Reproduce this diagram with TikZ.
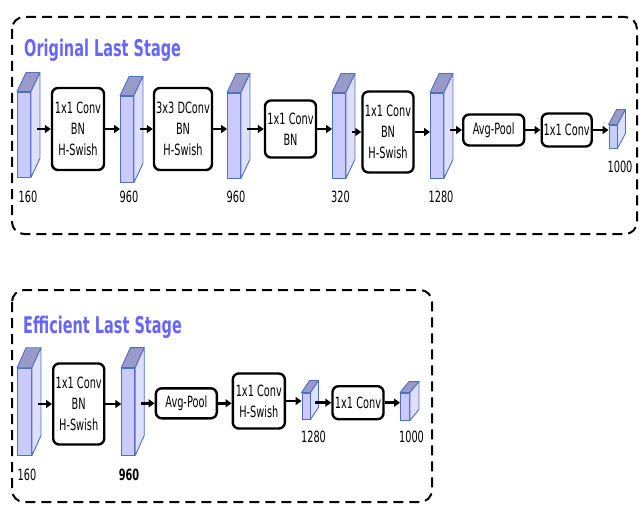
\documentclass[tikz,border=0pt]{standalone}
\usepackage{fontspec}
\setmainfont[FakeStretch=0.63]{DejaVu Sans}
\usetikzlibrary{arrows.meta,calc}
\definecolor{stagetitle}{RGB}{102,102,255}
\definecolor{cubefront}{RGB}{202,202,252}
\definecolor{cubeside}{RGB}{222,222,253}
\definecolor{cubetop}{RGB}{154,154,202}
\definecolor{cubeedge}{RGB}{78,112,192}
\tikzset{
    stage/.style={
        draw,
        line width=2pt,
        dash pattern=on 10pt off 6pt,
        rounded corners=12pt
    },
    stage title/.style={
        anchor=base west,
        inner sep=0pt,
        text=stagetitle,
        font=\fontsize{23}{27}\selectfont\bfseries
    },
    layer/.style={
        draw,
        line width=2.4pt,
        rounded corners=6pt,
        fill=white,
        align=center,
        inner sep=0pt,
        font=\fontsize{15.5}{21}\selectfont
    },
    fmap/.style={draw=cubeedge, fill=cubefront, line width=0.9pt, inner sep=0pt},
    fmap top/.style={draw=cubeedge, fill=cubetop, line width=0.9pt, line join=round},
    fmap side/.style={draw=cubeedge, fill=cubeside, line width=0.9pt, line join=round},
    dim/.style={inner sep=0pt, font=\fontsize{15.5}{18}\selectfont},
    flow/.style={line width=2.5pt, -{Triangle[length=6pt,width=8pt]}}
}

\begin{document}
\begin{tikzpicture}[x=1pt,y=-1pt]
\useasboundingbox (0,0) rectangle (639,505);

% stage frames
\draw[stage] (12,17) rectangle (637,234);
\draw[stage] (12,290) rectangle (432,502);
\node[stage title] (otitle) at (24,57) {Original Last Stage};
\node[stage title] (etitle) at (23,333) {Efficient Last Stage};

% original last stage
\node[fmap, minimum width=13, minimum height=85] (o1) at (24,134.5) {};
\node[fmap, minimum width=13, minimum height=86] (o2) at (127,139) {};
\node[fmap, minimum width=13, minimum height=85] (o3) at (234,135.5) {};
\node[fmap, minimum width=13, minimum height=85] (o4) at (339,135.5) {};
\node[fmap, minimum width=13, minimum height=85] (o5) at (437,135.5) {};
\node[fmap, minimum width=8, minimum height=23] (o6) at (613,136.5) {};

\node[layer, minimum width=52, minimum height=82] (a1) at (78,129) {1x1 Conv\\BN\\H-Swish};
\node[layer, minimum width=58, minimum height=82] (a2) at (183,129) {3x3 DConv\\BN\\H-Swish};
\node[layer, minimum width=51, minimum height=57] (a3) at (290.5,129) {1x1 Conv\\BN};
\node[layer, minimum width=51, minimum height=81] (a4) at (388,132) {1x1 Conv\\BN\\H-Swish};
\node[layer, minimum width=61, minimum height=31] (a5) at (493.7,130) {Avg-Pool};
\node[layer, minimum width=50, minimum height=33] (a6) at (566.7,130) {1x1 Conv};

\node[dim] (o1dim) at (28,197) {160};
\node[dim] (o2dim) at (129,197) {960};
\node[dim] (o3dim) at (236,197) {960};
\node[dim] (o4dim) at (340.5,197) {320};
\node[dim] (o5dim) at (441,197) {1280};
\node[dim] (o6dim) at (620,167) {1000};

% efficient last stage
\node[fmap, minimum width=14, minimum height=87] (e1) at (24.5,411.7) {};
\node[fmap, minimum width=13, minimum height=87] (e2) at (128.3,411.5) {};
\node[fmap, minimum width=8, minimum height=26] (e3) at (306,406) {};
\node[fmap, minimum width=9, minimum height=27] (e4) at (405,406.5) {};

\node[layer, minimum width=51, minimum height=81] (b1) at (78.7,404) {1x1 Conv\\BN\\H-Swish};
\node[layer, minimum width=61, minimum height=30] (b2) at (186.3,403.3) {Avg-Pool};
\node[layer, minimum width=52, minimum height=55] (b3) at (258.8,401) {1x1 Conv\\H-Swish};
\node[layer, minimum width=51, minimum height=33] (b4) at (358,402.7) {1x1 Conv};

\node[dim] (e1dim) at (27,475) {160};
\node[dim, font=\fontsize{15.5}{18}\selectfont\bfseries] (e2dim) at (129,475) {960};
\node[dim] (e3dim) at (313.5,437) {1280};
\node[dim] (e4dim) at (411.5,437) {1000};

% cube faces
\foreach \c/\dx/\dy in {o1/9/19,o2/9/19,o3/9/19,o4/9/19,o5/9/19,o6/8/15,e1/9/20,e2/9/20,e3/8/12,e4/9/11}{
    \draw[fmap top] (\c.north west) -- ++(\dx,-\dy) -- ($(\c.north east)+(\dx,-\dy)$) -- (\c.north east) -- cycle;
    \draw[fmap side] (\c.north east) -- ++(\dx,-\dy) -- ($(\c.south east)+(\dx,-\dy)$) -- (\c.south east) -- cycle;
}

% connectors
\draw[flow] ($(o1.east |- a1.west)+(6,0)$) -- (a1.west);
\draw[flow] (a1.east) -- (a1.east -| o2.west);
\draw[flow] ($(o2.east |- a2.west)+(6,0)$) -- (a2.west);
\draw[flow] (a2.east) -- (a2.east -| o3.west);
\draw[flow] ($(o3.east |- a3.west)+(6,0)$) -- (a3.west);
\draw[flow] (a3.east) -- (a3.east -| o4.west);
\draw[flow] ($(o4.east |- a4.west)+(6,0)$) -- (a4.west);
\draw[flow] (a4.east) -- (a4.east -| o5.west);
\draw[flow] ($(o5.east |- a5.west)+(6,0)$) -- (a5.west);
\draw[flow] (a5.east) -- (a5.east -| a6.west);
\draw[flow] (a6.east) -- (a6.east -| o6.west);

\draw[flow] ($(e1.east |- b1.west)+(6,0)$) -- (b1.west);
\draw[flow] (b1.east) -- (b1.east -| e2.west);
\draw[flow] ($(e2.east |- b2.west)+(6,0)$) -- (b2.west);
\draw[flow] (b2.east) -- (b2.east -| b3.west);
\draw[flow] (b3.east) -- (b3.east -| e3.west);
\draw[flow] ($(e3.east |- b4.west)+(5,0)$) -- (b4.west);
\draw[flow] (b4.east) -- (b4.east -| e4.west);
\end{tikzpicture}
\end{document}
